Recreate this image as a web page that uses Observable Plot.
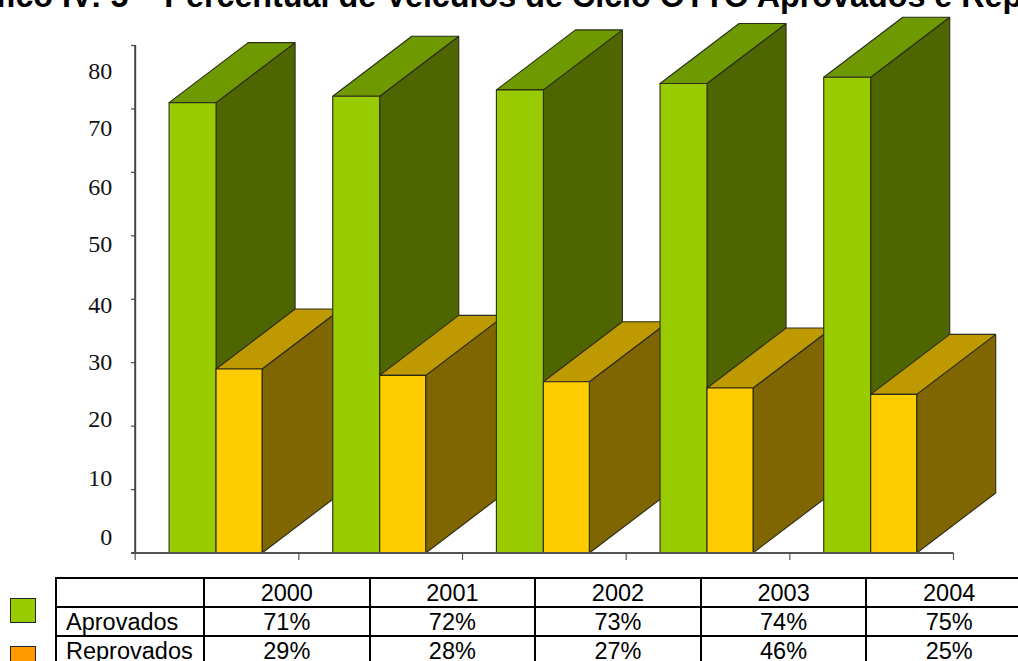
<!DOCTYPE html>
<html lang="pt">
<head>
<meta charset="utf-8">
<script src="https://cdn.jsdelivr.net/npm/d3@7"></script>
<script src="https://cdn.jsdelivr.net/npm/@observablehq/plot@0.6"></script>
<style>
  html, body { margin: 0; padding: 0; background: #fff; }
  #page { position: relative; width: 1018px; height: 661px; overflow: hidden; }
  #chart { position: absolute; left: 0; top: 0; }
  #title {
    position: absolute; left: -60px; top: -22px; white-space: nowrap;
    font: bold 32.3px/36px "Liberation Sans", Arial, sans-serif; color: #000;
  }
  .swatch { position: absolute; left: 10px; width: 24px; height: 23px; border: 1.6px solid #222; }
  table {
    position: absolute; left: 55px; top: 577px; border-collapse: collapse; table-layout: fixed;
    width: 976px; font: 23.5px "Liberation Sans", Arial, sans-serif; color: #000;
  }
  td { border: 2px solid #000; padding: 0; height: 27px; line-height: 27px; text-align: center; }
  td span { position: relative; top: 0.5px; }
  td:first-child { text-align: left; padding-left: 9px; }
</style>
</head>
<body>
<div id="page">
  <div id="chart"></div>
  <div id="title">Gráfico IV: 5 – Percentual de Veículos de Ciclo OTTO Aprovados e Reprovados</div>
  <div class="swatch" style="top:598px;background:#99cc00"></div>
  <div class="swatch" style="top:646px;background:#ff9900"></div>
  <table id="data-table"></table>
</div>
<script>
const years = ["2000", "2001", "2002", "2003", "2004"];
const aprovados = [71, 72, 73, 74, 75];
const reprovados = [29, 28, 27, 26, 25];

// Cell texts as printed in the table under the chart.
const aprovadosCells = ["71%", "72%", "73%", "74%", "75%"];
const reprovadosCells = ["29%", "28%", "27%", "46%", "25%"];

// Axis numbers and the heights they are printed at, which sit apart from the tick marks.
const axisLabels = [0, 10, 20, 30, 40, 50, 60, 70, 80];
const axisLabelHeights = [2.4, 11.8, 21, 30, 39.1, 48.6, 57.7, 66.9, 75.9];
const axisTicks = [0, 10, 20, 30, 40, 50, 60, 70, 80];
const categoryEdges = [0, 1, 2, 3, 4, 5];

const greenFaces = { front: "#99cc00", side: "#4f6600", top: "#6f9900" };
const yellowFaces = { front: "#ffcc00", side: "#806600", top: "#bf9900" };

// Box layout in scale units: one category is 1 on x, the oblique depth is shared by all boxes.
const barStart = 0.207, greenWidth = 0.287, yellowWidth = 0.281, depthX = 0.483, depthY = 9.46;

function box(id, x0, x1, h, colors) {
  const poly = (name, pts) => pts.map(([x, y]) => ({ id: `${id}-${name}`, x, y, fill: colors[name] }));
  return [
    ...poly("side", [[x1, 0], [x1 + depthX, depthY], [x1 + depthX, h + depthY], [x1, h], [x1, 0]]),
    ...poly("top", [[x0, h], [x1, h], [x1 + depthX, h + depthY], [x0 + depthX, h + depthY], [x0, h]]),
    ...poly("front", [[x0, 0], [x1, 0], [x1, h], [x0, h], [x0, 0]])
  ];
}

const faces = years.flatMap((year, i) => {
  const x0 = i + barStart, x1 = x0 + greenWidth, x2 = x1 + yellowWidth;
  return [
    ...box(`a${year}`, x0, x1, aprovados[i], greenFaces),
    ...box(`r${year}`, x1, x2, reprovados[i], yellowFaces)
  ];
});

const chart = Plot.plot({
  width: 1018,
  height: 575,
  marginLeft: 0, marginRight: 0, marginTop: 0, marginBottom: 0,
  style: { background: "transparent" },
  x: { type: "linear", domain: [0, 5], range: [134.7, 953], axis: null },
  y: { type: "linear", domain: [0, 80], range: [552.5, 45], axis: null },
  marks: [
    Plot.line(faces, {
      x: "x", y: "y", z: "id",
      fill: { value: "fill", scale: null },
      stroke: "#2c2c1a", strokeWidth: 1.1, curve: "linear", strokeLinejoin: "miter"
    }),
    Plot.ruleY([0], { x1: -0.022, x2: 5, stroke: "#555", strokeWidth: 1.8 }),
    Plot.ruleX([0], { y1: 0, y2: 80, stroke: "#444", strokeWidth: 2 }),
    Plot.ruleX(categoryEdges, { x: d => d, y1: 0, y2: -1.2, stroke: "#555", strokeWidth: 1.2 }),
    Plot.ruleY(axisTicks, { y: d => d, x1: -0.022, x2: 0, stroke: "#444", strokeWidth: 1.2 }),
    Plot.text(axisLabels, {
      x: 0, y: (d, i) => axisLabelHeights[i], text: d => String(d),
      dx: -23, textAnchor: "end", fontSize: 24,
      fontFamily: "'Liberation Serif', 'Times New Roman', serif", fill: "#111"
    })
  ]
});
document.getElementById("chart").append(chart);

// Table of yearly percentages below the chart.
const rows = [["", ...years], ["Aprovados", ...aprovadosCells], ["Reprovados", ...reprovadosCells]];
document.getElementById("data-table").innerHTML =
  `<colgroup><col style="width:148px">${years.map(() => '<col style="width:165.6px">').join("")}</colgroup>` +
  rows.map(r => `<tr>${r.map(c => `<td><span>${c}</span></td>`).join("")}</tr>`).join("");
</script>
</body>
</html>
